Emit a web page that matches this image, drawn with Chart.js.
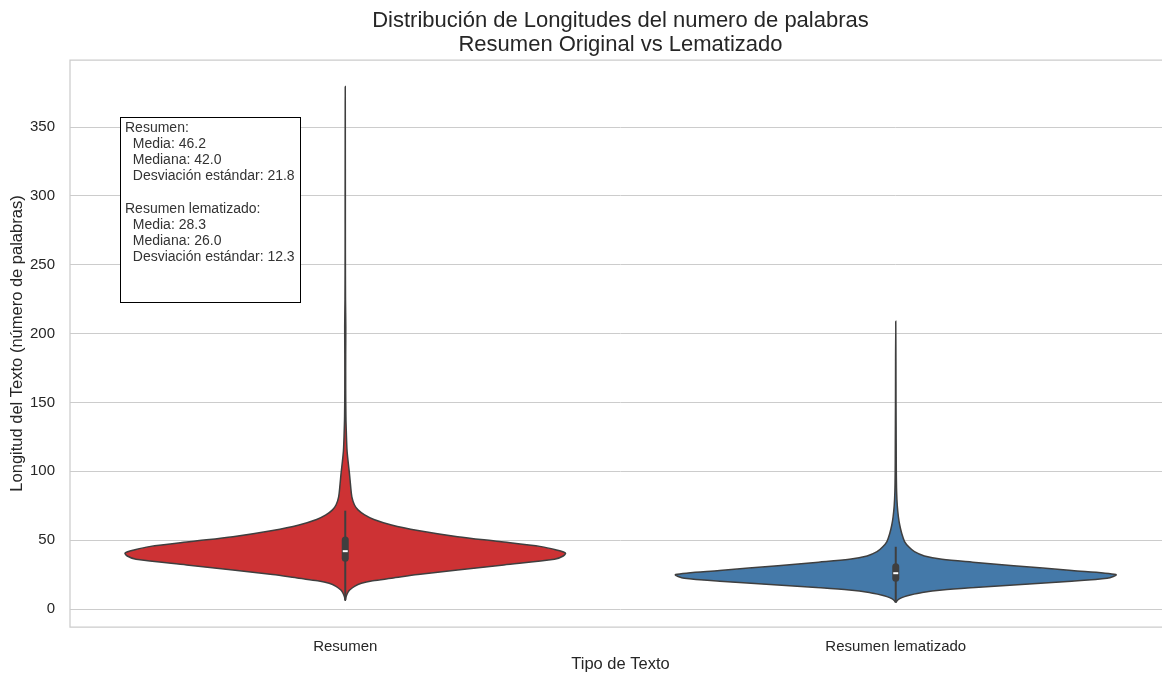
<!DOCTYPE html>
<html><head><meta charset="utf-8">
<script src="https://cdn.jsdelivr.net/npm/chart.js@4"></script>
<style>html,body{margin:0;padding:0;overflow:hidden;background:#fff;width:1162px;height:674px}</style>
</head><body>
<canvas id="c" width="1190" height="674" style="display:block;width:1190px;height:674px"></canvas>
<script>
// ---- data ----
const categories = ['Resumen', 'Resumen lematizado'];
const titleLines = ['Distribución de Longitudes del numero de palabras', 'Resumen Original vs Lematizado'];
const xTitle = 'Tipo de Texto';
const yTitle = 'Longitud del Texto (número de palabras)';
const yTicks = [0, 50, 100, 150, 200, 250, 300, 350];

// violin outline: value (words) and relative density (1 = widest)
const resumenVals = [6, 9, 12, 13.8, 16.5, 18.7, 20.5, 22.3, 25, 28.3, 32, 36.1, 38.5, 40.7, 43, 45.3, 49, 52.5, 57, 61, 65, 68.3, 72, 75.5, 81.5, 90, 98.5, 107, 115.5, 127.8, 140, 160, 185, 205, 225, 260, 300, 340, 379.5];
const resumenDens = [0, 0.004, 0.012, 0.02, 0.042, 0.073, 0.125, 0.21, 0.33, 0.51, 0.72, 0.95, 0.99, 1.0, 0.955, 0.89, 0.70, 0.51, 0.33, 0.21, 0.13, 0.088, 0.058, 0.042, 0.03, 0.024, 0.019, 0.013, 0.008, 0.005, 0.003, 0.002, 0.002, 0.0025, 0.0012, 0.0006, 0.0005, 0.0003, 0];
const lemaVals = [4.6, 6, 7.5, 9, 10.2, 12, 13.8, 15.6, 17.4, 20, 22.3, 25, 28, 31.5, 34, 36.1, 38.5, 41.6, 45, 49, 55, 61, 67, 75, 85, 100, 120, 150, 180, 209];
const lemaDens = [0, 0.006, 0.018, 0.04, 0.066, 0.12, 0.21, 0.36, 0.535, 0.78, 0.96, 1.0, 0.8, 0.535, 0.35, 0.21, 0.13, 0.085, 0.06, 0.04, 0.027, 0.018, 0.012, 0.007, 0.004, 0.0025, 0.002, 0.0012, 0.0008, 0];

// inner box
const whiskerLow = [6.5, 5.0];
const whiskerHigh = [71.4, 45.2];
const q1 = [36.9, 22.3];
const q3 = [50.1, 30.6];
const medians = [42.0, 26.0];

// stats text
const statMeans = [46.2, 28.3];
const statMedians = [42.0, 26.0];
const statStds = [21.8, 12.3];

// ---- styles ----
const FONT = "'Liberation Sans', Arial, sans-serif";
const fillColors = ['#cd3234', '#4479a9'];
const edgeColor = '#3f3f3f';
const halfWidth = 0.4;

function violinPoints(center, vals, dens) {
  const pts = [];
  for (let i = 0; i < vals.length; i++) pts.push({x: center - dens[i] * halfWidth, y: vals[i]});
  for (let i = vals.length - 2; i >= 0; i--) pts.push({x: center + dens[i] * halfWidth, y: vals[i]});
  return pts;
}

const profiles = [[resumenVals, resumenDens], [lemaVals, lemaDens]];
const datasets = [];
profiles.forEach((p, i) => {
  datasets.push({
    data: violinPoints(i, p[0], p[1]),
    borderColor: edgeColor, borderWidth: 1.5, backgroundColor: fillColors[i],
    fill: 'shape', tension: 0.3, pointRadius: 0, order: 10
  });
  datasets.push({
    data: [{x: i, y: whiskerLow[i]}, {x: i, y: whiskerHigh[i]}],
    borderColor: edgeColor, borderWidth: 2, pointRadius: 0, fill: false, order: 5
  });
  datasets.push({
    data: [{x: i, y: q1[i]}, {x: i, y: q3[i]}],
    borderColor: edgeColor, borderWidth: 7, borderCapStyle: 'round', pointRadius: 0, fill: false, order: 4
  });
  datasets.push({
    data: [{x: i, y: medians[i]}],
    showLine: false, pointStyle: 'line', pointRadius: 2.5, pointBorderColor: '#ffffff', pointBorderWidth: 2, order: 1
  });
});

const framePlugin = {
  id: 'frame',
  beforeDatasetsDraw(chart) {
    const {ctx, chartArea: a} = chart;
    ctx.save();
    ctx.strokeStyle = '#cccccc';
    ctx.lineWidth = 1.25;
    ctx.beginPath();
    ctx.moveTo(a.right + 5, a.top); ctx.lineTo(a.left, a.top);
    ctx.lineTo(a.left, a.bottom); ctx.lineTo(a.right + 5, a.bottom);
    ctx.stroke();
    ctx.restore();
  },
  afterDatasetsDraw(chart) {
    const {ctx, chartArea: a} = chart;
    // title centred over the axes
    ctx.save();
    ctx.font = '22px ' + FONT;
    ctx.fillStyle = '#262626';
    ctx.textAlign = 'center';
    ctx.textBaseline = 'middle';
    const cx = (a.left + a.right) / 2;
    titleLines.forEach((t, i) => ctx.fillText(t, cx, 20.5 + i * 24.6));
    ctx.restore();

    const lines = [];
    categories.forEach((c, i) => {
      if (i > 0) lines.push('');
      lines.push(c + ':');
      lines.push('  Media: ' + statMeans[i].toFixed(1));
      lines.push('  Mediana: ' + statMedians[i].toFixed(1));
      lines.push('  Desviación estándar: ' + statStds[i].toFixed(1));
    });
    const x0 = a.left + 50, y0 = a.top + 57, w = 180, h = 185;
    ctx.save();
    ctx.fillStyle = '#ffffff';
    ctx.fillRect(x0, y0, w, h);
    ctx.strokeStyle = '#000000';
    ctx.lineWidth = 1;
    ctx.strokeRect(x0 + 0.5, y0 + 0.5, w, h);
    ctx.font = '14px ' + FONT;
    ctx.fillStyle = '#333333';
    ctx.textBaseline = 'middle';
    ctx.textAlign = 'left';
    lines.forEach((t, i) => ctx.fillText(t, x0 + 5, y0 + 11 + i * 16.2));
    ctx.restore();
  }
};

new Chart(document.getElementById('c'), {
  type: 'line',
  data: {datasets},
  options: {
    responsive: false,
    animation: false,
    layout: {padding: {left: 0, right: 19, top: 60, bottom: 0}},
    plugins: {
      legend: {display: false},
      tooltip: {enabled: false},
      title: {display: false}
    },
    scales: {
      x: {
        type: 'linear', min: -0.5, max: 1.5,
        afterBuildTicks: s => { s.ticks = categories.map((c, i) => ({value: i})); },
        afterFit: s => { s.height = 47; },
        ticks: {callback: v => categories[v], color: '#262626', font: {family: FONT, size: 15}, padding: 11, autoSkip: false, maxRotation: 0},
        grid: {display: false, drawTicks: false},
        border: {display: false},
        title: {display: true, text: xTitle, color: '#262626', font: {family: FONT, size: 16.5, lineHeight: 1.1}, padding: {top: 0, bottom: 0}}
      },
      y: {
        type: 'linear', min: -13.07, max: 398.7,
        afterBuildTicks: s => { s.ticks = yTicks.map(v => ({value: v})); },
        afterFit: s => { s.width = 70; },
        ticks: {color: '#262626', font: {family: FONT, size: 15}, padding: 15},
        grid: {color: '#cccccc', lineWidth: 1, drawTicks: false},
        border: {display: false},
        title: {display: true, text: yTitle, color: '#262626', font: {family: FONT, size: 16.5, lineHeight: 1.1}, padding: {top: 8, bottom: 0}}
      }
    }
  },
  plugins: [framePlugin]
});
</script>
</body></html>
